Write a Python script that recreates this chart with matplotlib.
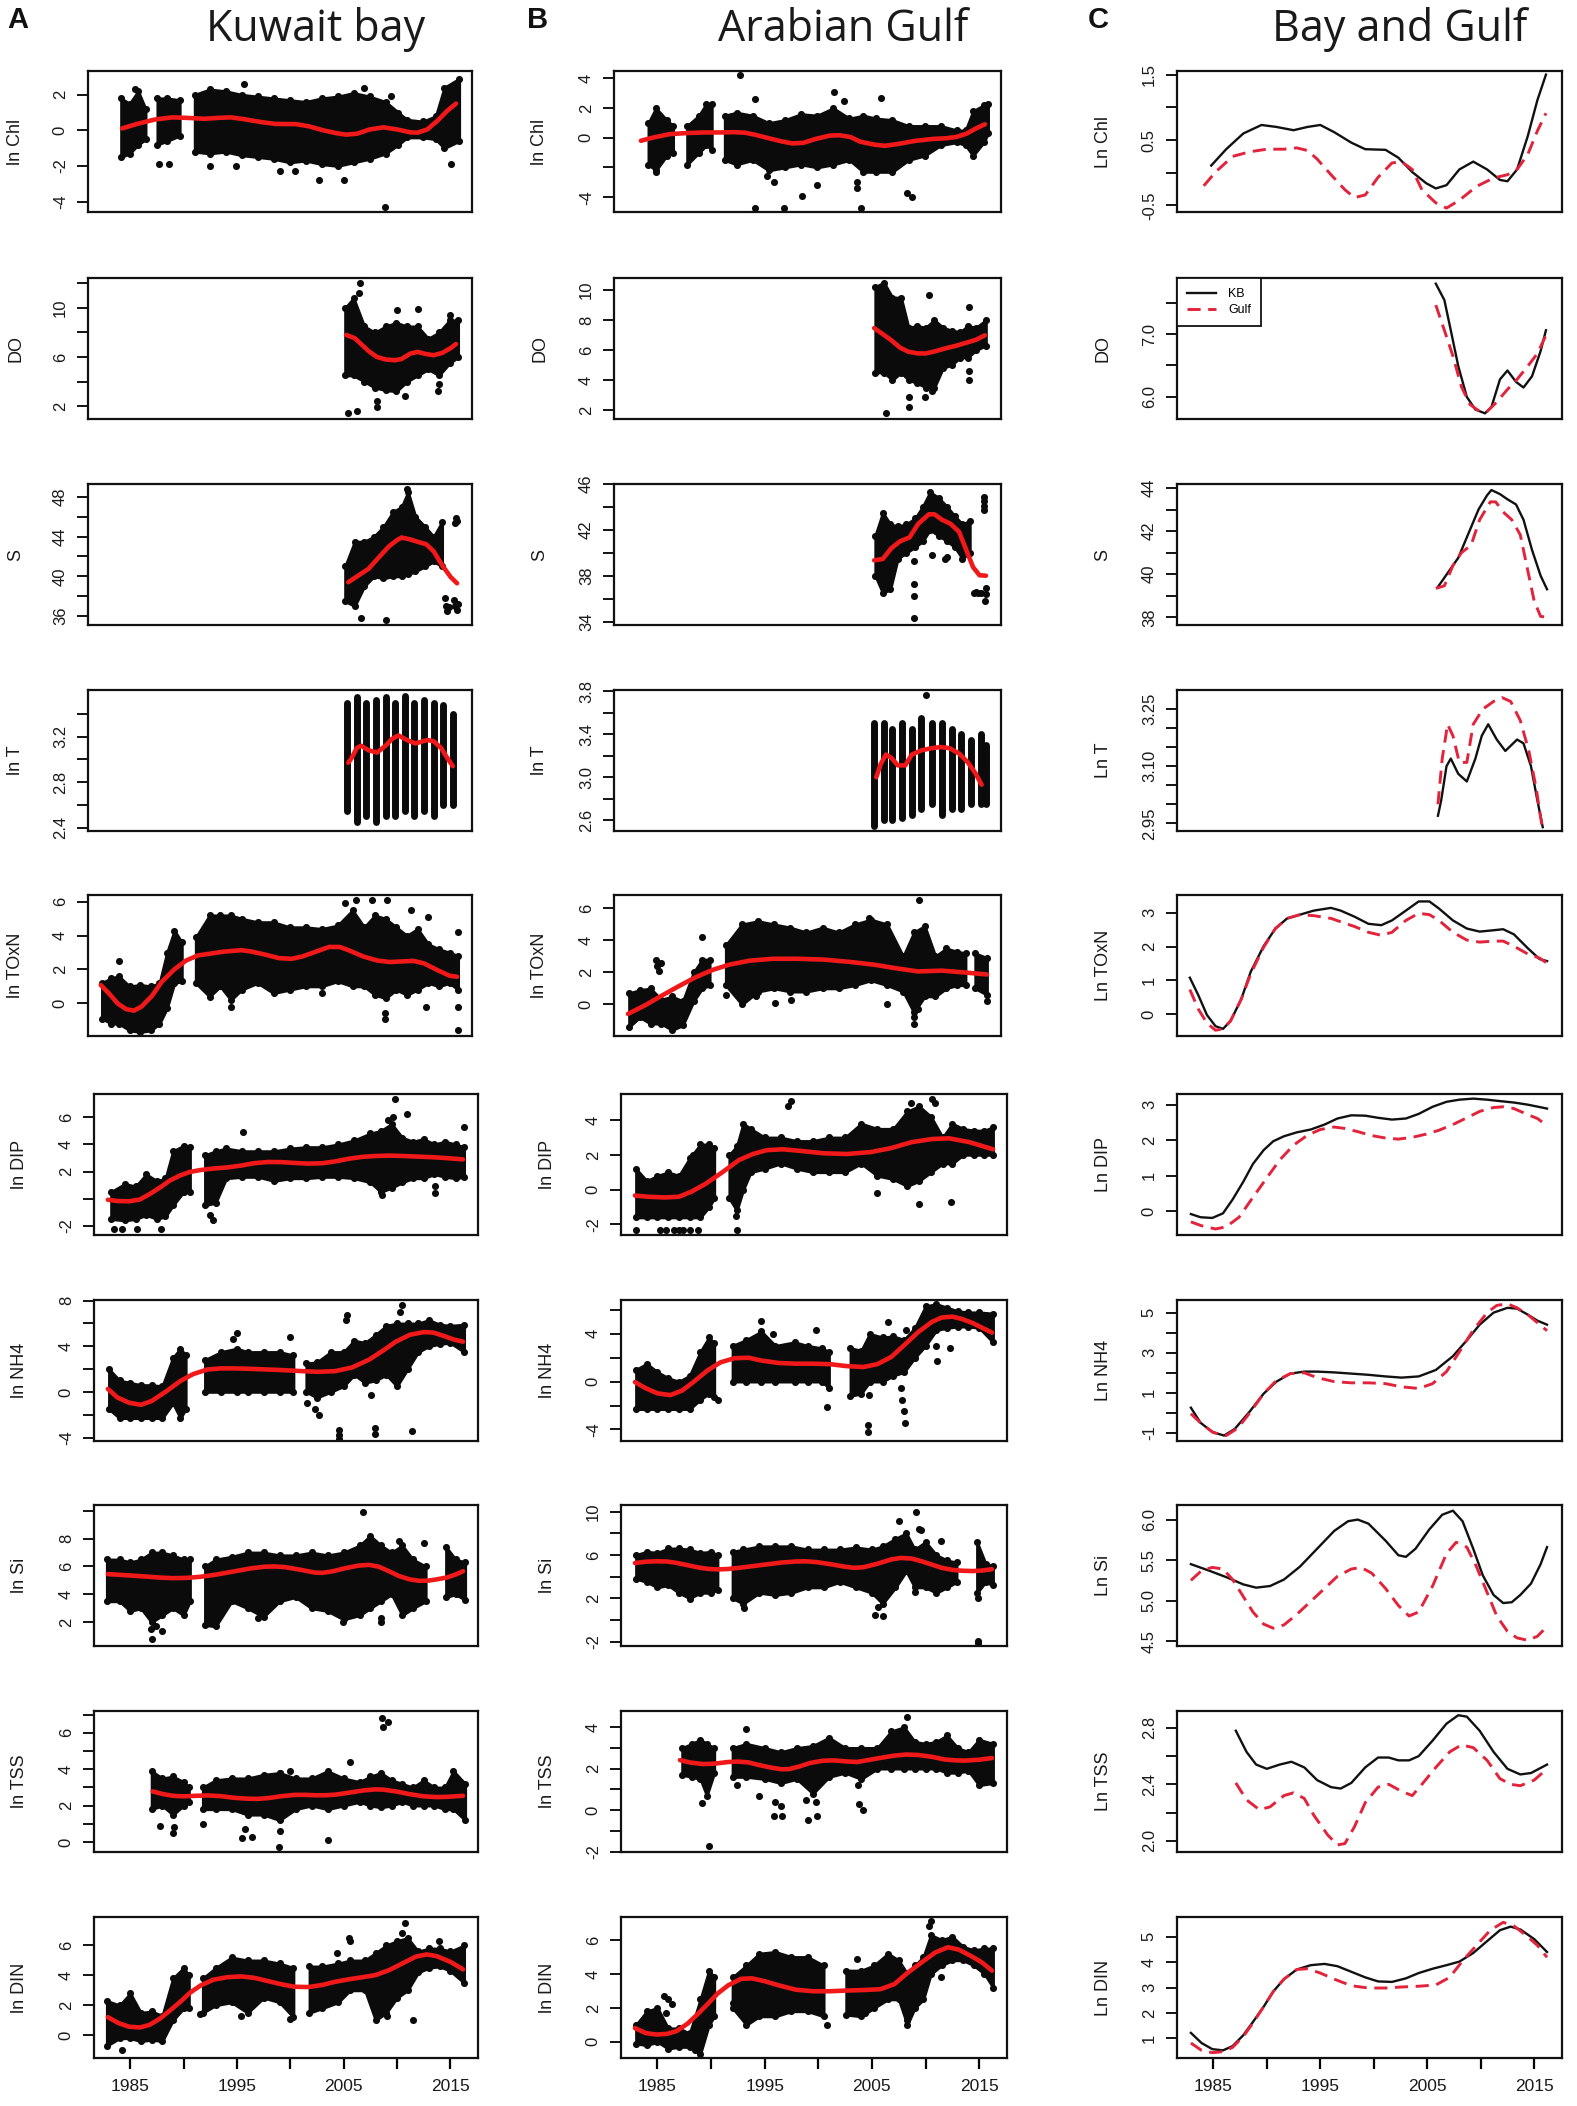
import matplotlib
matplotlib.use('Agg')
import matplotlib.pyplot as plt
import numpy as np

# ---------------- axis / text definitions ----------------
AB_NAMES = ['ln Chl', 'DO', 'S', 'ln T', 'ln TOxN', 'ln DIP', 'ln NH4', 'ln Si', 'ln TSS', 'ln DIN']
C_NAMES = ['Ln Chl', 'DO', 'S', 'Ln T', 'Ln TOxN', 'Ln DIP', 'Ln NH4', 'Ln Si', 'Ln TSS', 'Ln DIN']
TITLES = ['Kuwait bay', 'Arabian Gulf', 'Bay and Gulf']
LETTERS = ['A', 'B', 'C']
XT = [1985, 1990, 1995, 2000, 2005, 2010, 2015]
XTL = ['1985', '', '1995', '', '2005', '', '2015']

A_TICKS = [[-4, -2, 0, 2], [2, 4, 6, 8, 10, 12], [36, 38, 40, 42, 44, 46, 48], [2.4, 2.6, 2.8, 3.0, 3.2, 3.4],
           [0, 2, 4, 6], [-2, 0, 2, 4, 6], [-4, -2, 0, 2, 4, 6, 8], [2, 4, 6, 8, 10], [0, 1, 2, 3, 4, 5, 6, 7], [0, 2, 4, 6]]
A_LABELS = [['-4', '-2', '0', '2'], ['2', '', '6', '', '10', ''], ['36', '', '40', '', '44', '', '48'],
            ['2.4', '', '2.8', '', '3.2', ''], ['0', '2', '4', '6'], ['-2', '', '2', '4', '6'],
            ['-4', '', '0', '', '4', '', '8'], ['2', '4', '6', '8', ''], ['0', '', '2', '', '4', '', '6', ''],
            ['0', '2', '4', '6']]
A_YLIM = [(-4.58, 3.33), (0.95, 12.44), (35.1, 49.3), (2.37, 3.61), (-1.93, 6.4), (-2.67, 7.7),
          (-4.3, 8.05), (0.3, 10.4), (-0.55, 7.2), (-1.52, 7.9)]
B_TICKS = [[-4, -2, 0, 2, 4], [2, 4, 6, 8, 10], [34, 36, 38, 40, 42, 44, 46], [2.6, 2.8, 3.0, 3.2, 3.4, 3.6, 3.8],
           [0, 2, 4, 6], [-2, 0, 2, 4], [-4, -2, 0, 2, 4, 6], [-2, 0, 2, 4, 6, 8, 10], [-2, -1, 0, 1, 2, 3, 4], [0, 2, 4, 6]]
B_LABELS = [['-4', '', '0', '2', '4'], ['2', '4', '6', '8', '10'], ['34', '', '38', '', '42', '', '46'],
            ['2.6', '', '3.0', '', '3.4', '', '3.8'], ['0', '2', '4', '6'], ['-2', '0', '2', '4'],
            ['-4', '', '0', '', '4', ''], ['-2', '', '2', '', '6', '', '10'], ['-2', '', '0', '', '2', '', '4'],
            ['0', '2', '4', '6']]
B_YLIM = [(-5.0, 4.5), (1.4, 10.8), (33.7, 46.0), (2.5, 3.81), (-1.97, 6.83), (-2.61, 5.5),
          (-4.97, 6.83), (-2.4, 10.6), (-2.02, 4.78), (-0.95, 7.35)]
C_TICKS = [[-0.5, 0, 0.5, 1.0, 1.5], [6.0, 6.5, 7.0, 7.5], [38, 39, 40, 41, 42, 43, 44],
           [2.95, 3.0, 3.05, 3.1, 3.15, 3.2, 3.25], [0, 1, 2, 3], [0, 1, 2, 3], [-1, 0, 1, 2, 3, 4, 5],
           [4.5, 5.0, 5.5, 6.0], [2.0, 2.2, 2.4, 2.6, 2.8], [1, 2, 3, 4, 5]]
C_LABELS = [['-0.5', '', '0.5', '', '1.5'], ['6.0', '', '7.0', ''], ['38', '', '40', '', '42', '', '44'],
            ['2.95', '', '', '3.10', '', '', '3.25'], ['0', '1', '2', '3'], ['0', '1', '2', '3'],
            ['-1', '', '1', '', '3', '', '5'], ['4.5', '5.0', '5.5', '6.0'], ['2.0', '', '2.4', '', '2.8'],
            ['1', '2', '3', '4', '5']]
C_YLIM = [(-0.6, 1.555), (5.65, 7.89), (37.64, 44.19), (2.93, 3.30), (-0.64, 3.52), (-0.67, 3.3),
          (-1.4, 5.63), (4.44, 6.18), (1.92, 2.92), (0.22, 5.78)]

# ---------------- Kuwait Bay observations (envelopes + isolated points) ----------------
KB_CHL_X = [1984.7, 1985.5, 1986.3, 1987.0, None, 1988.1, 1989.0, 1990.2, None, 1991.6, 1993.0, 1994.5, 1996.0, 1997.5, 1999.0, 2000.5, 2002.0, 2003.5, 2005.0, 2006.5, 2008.0, 2009.5, 2010.7, 2011.5, 2013.0, 2014.2, 2015.0, 2016.4]
KB_CHL_LO = [-1.5, -1.3, -0.8, -0.5, None, -0.8, -0.6, -0.3, None, -1.2, -1.3, -1.2, -1.4, -1.5, -1.6, -1.8, -1.7, -1.9, -2.0, -1.8, -1.6, -1.3, -0.8, -0.4, -0.4, -0.5, -1.0, -0.6]
KB_CHL_HI = [1.8, 1.5, 2.2, 1.2, None, 1.8, 1.8, 1.7, None, 2.0, 2.3, 2.2, 2.0, 1.9, 1.8, 1.7, 1.6, 1.8, 1.9, 2.1, 1.9, 1.6, 1.0, 0.6, 0.5, 0.8, 2.4, 2.9]
KB_CHL_OX = [1988.3, 1989.2, 1993.0, 1995.5, 1996.2, 1999.6, 2001.0, 2003.3, 2005.6, 2007.5, 2009.4, 2015.6, 2010.0, 1986.0]
KB_CHL_OY = [-1.9, -1.9, -2.0, -2.0, 2.6, -2.3, -2.3, -2.8, -2.8, 2.4, -4.3, -1.9, 1.9, 2.3]

KB_DO_X = [2005.7, 2006.5, 2007.5, 2008.5, 2009.5, 2010.5, 2011.5, 2012.5, 2013.5, 2014.5, 2015.5, 2016.3]
KB_DO_LO = [4.5, 4.5, 4.0, 3.5, 3.3, 3.2, 4.0, 4.5, 5.0, 4.5, 5.5, 6.0]
KB_DO_HI = [10.0, 10.8, 8.5, 8.0, 8.5, 8.8, 8.5, 8.5, 7.5, 8.0, 9.0, 9.0]
KB_DO_OX = [2007.1, 2007.0, 2006.0, 2008.7, 2008.7, 2011.3, 2010.6, 2012.5, 2014.4, 2014.5, 2015.5, 2006.8]
KB_DO_OY = [12.0, 11.2, 1.4, 1.9, 2.4, 2.8, 9.8, 9.9, 3.2, 3.8, 9.4, 1.6]

KB_S_X = [2005.7, 2006.6, 2007.5, 2008.4, 2009.3, 2010.2, 2011.0, 2011.6, 2012.3, 2013.2, 2014.0, 2014.8]
KB_S_LO = [37.5, 37.0, 39.0, 40.0, 39.8, 40.0, 40.0, 40.2, 40.5, 41.0, 41.5, 41.0]
KB_S_HI = [41.0, 43.5, 43.5, 44.0, 45.0, 46.5, 47.0, 48.5, 46.0, 45.0, 44.0, 45.5]
KB_S_OX = [2009.5, 2007.2, 2015.1, 2015.2, 2015.3, 2015.4, 2016.0, 2016.1, 2016.2, 2016.0, 2016.2, 2016.3, 2011.5, 2015.9]
KB_S_OY = [35.6, 35.8, 37.8, 37.0, 36.5, 36.9, 45.4, 45.9, 45.6, 37.0, 36.6, 37.2, 48.8, 37.6]

KB_T_X = [2005.9, 2006.8, 2007.7, 2008.6, 2009.5, 2010.4, 2011.3, 2012.2, 2013.1, 2014.0, 2014.9, 2015.8]
KB_T_LO = [2.55, 2.45, 2.5, 2.45, 2.5, 2.5, 2.55, 2.5, 2.55, 2.5, 2.6, 2.6]
KB_T_HI = [3.5, 3.55, 3.5, 3.52, 3.55, 3.5, 3.56, 3.5, 3.52, 3.5, 3.48, 3.4]
KB_T_OX = []
KB_T_OY = []

KB_TOXN_X = [1982.9, 1983.8, 1984.5, 1985.5, 1986.5, 1987.5, 1988.3, 1989.0, 1989.7, 1990.4, None, 1991.7, 1993.0, 1994.0, 1995.0, 1996.0, 1997.5, 1999.0, 2000.5, 2002.0, 2003.5, 2005.0, 2006.4, 2007.5, 2008.5, 2009.5, 2010.5, 2011.5, 2012.5, 2013.5, 2014.5, 2015.5, 2016.3]
KB_TOXN_LO = [-0.9, -1.2, -1.2, -1.6, -1.7, -1.6, -1.2, -0.3, 1.2, 1.3, None, 1.2, 0.4, 1.0, 0.2, 0.8, 1.2, 0.6, 0.8, 1.0, 1.0, 1.3, 1.0, 1.0, 0.5, 0.3, 0.8, 0.5, 0.8, 1.2, 1.0, 1.2, 0.8]
KB_TOXN_HI = [1.2, 1.5, 1.6, 1.0, 1.1, 1.0, 1.2, 3.0, 4.3, 3.6, None, 3.9, 5.2, 5.2, 5.2, 5.0, 4.8, 4.8, 4.5, 4.5, 4.4, 4.6, 5.5, 4.5, 5.2, 5.0, 4.5, 4.0, 4.4, 3.5, 3.2, 3.0, 2.8]
KB_TOXN_OX = [1984.5, 2006.7, 2008.2, 2009.6, 2009.4, 2009.4, 2011.9, 2013.5, 2013.3, 2016.3, 2016.3, 2016.3, 2003.5, 1995.0, 2005.7]
KB_TOXN_OY = [2.5, 6.1, 6.1, 6.1, -0.6, -0.9, 5.5, 5.1, -0.2, 4.2, -0.2, -1.6, 0.6, -0.2, 5.9]

KB_DIP_X = [1983.2, 1984.5, 1985.5, 1986.5, 1987.5, 1988.3, 1989.0, 1990.0, 1990.6, None, 1992.0, 1993.0, 1994.0, 1995.5, 1997.0, 1998.5, 2000.0, 2001.5, 2003.0, 2004.5, 2006.0, 2007.5, 2008.5, 2009.5, 2010.5, 2011.5, 2012.5, 2013.5, 2014.5, 2015.5, 2016.3]
KB_DIP_LO = [-1.5, -1.6, -1.5, -1.2, -1.5, -1.3, -0.5, 0.5, 0.5, None, -0.5, -0.3, 1.5, 1.6, 1.6, 1.3, 1.5, 1.5, 1.6, 1.6, 1.5, 1.2, 0.5, 0.8, 1.2, 1.5, 1.5, 1.8, 1.6, 1.5, 1.6]
KB_DIP_HI = [0.5, 1.1, 0.9, 1.8, 1.3, 1.5, 3.5, 3.9, 3.8, None, 3.2, 3.5, 3.7, 3.5, 3.5, 3.5, 3.7, 3.8, 3.8, 4.0, 4.3, 4.8, 5.0, 5.5, 4.5, 4.2, 4.4, 4.0, 4.2, 4.0, 3.8]
KB_DIP_OX = [1983.5, 1984.2, 1985.6, 1987.9, 1992.8, 1995.6, 2009.2, 2009.6, 2009.8, 2010.9, 2008.6, 2013.6, 2013.6, 2016.3, 1992.5]
KB_DIP_OY = [-2.2, -2.2, -2.2, -2.2, -1.6, 4.9, 5.8, 6.0, 7.3, 6.2, 0.3, 0.4, 0.9, 5.3, -1.2]

KB_NH4_X = [1983.0, 1984.0, 1985.0, 1986.0, 1987.0, 1988.0, 1989.0, 1989.7, 1990.2, None, 1992.0, 1993.5, 1995.0, 1996.0, 1997.5, 1999.0, 2000.3, None, 2001.5, 2002.5, 2003.8, 2005.0, 2006.0, 2007.0, 2008.0, 2009.0, 2010.0, 2011.0, 2012.0, 2013.0, 2014.0, 2015.0, 2016.3]
KB_NH4_LO = [-1.5, -2.3, -2.3, -2.3, -2.3, -2.3, -1.0, -2.3, -1.5, None, 0.0, 0.0, 0.0, 0.0, 0.0, 0.0, 0.0, None, 0.0, -0.5, 0.0, 0.5, 1.5, 0.8, 1.0, 1.5, 0.5, 2.0, 3.5, 4.0, 4.2, 4.3, 3.5]
KB_NH4_HI = [2.0, 1.0, 0.8, 0.6, 0.6, 0.5, 3.0, 3.8, 3.2, None, 2.8, 3.5, 3.8, 3.5, 3.5, 3.5, 3.2, None, 2.5, 2.6, 3.5, 3.5, 4.5, 4.3, 5.0, 5.8, 6.0, 6.0, 6.0, 6.3, 5.9, 5.8, 5.9]
KB_NH4_OX = [2004.6, 2004.6, 2004.6, 2007.9, 2007.9, 2011.4, 2005.2, 2005.3, 2010.5, 2010.3, 1995.0, 2000.0, 2007.6, 2001.6, 2002.3, 2002.7, 1994.6]
KB_NH4_OY = [-3.8, -4.1, -3.3, -3.2, -3.7, -3.4, 6.3, 6.7, 7.6, 7.0, 5.2, 4.8, -0.3, -1.0, -1.5, -2.0, 4.6]

KB_SI_X = [1982.8, 1984.0, 1985.0, 1986.0, 1987.0, 1988.0, 1989.0, 1990.0, 1990.6, None, 1992.0, 1993.0, 1994.5, 1996.0, 1997.5, 1999.0, 2000.5, 2002.0, 2003.5, 2005.0, 2006.5, 2007.5, 2008.5, 2009.5, 2010.5, 2011.5, 2012.7, None, 2014.6, 2015.5, 2016.4]
KB_SI_LO = [3.5, 3.5, 2.8, 3.0, 2.0, 2.5, 3.0, 2.5, 3.5, None, 1.8, 1.7, 3.5, 3.0, 2.4, 3.5, 3.8, 3.0, 2.8, 2.2, 2.5, 3.0, 3.5, 4.0, 2.5, 3.0, 3.5, None, 3.8, 4.0, 3.6]
KB_SI_HI = [6.5, 6.5, 6.3, 6.5, 7.0, 7.0, 6.8, 6.5, 6.5, None, 6.0, 6.5, 6.7, 7.0, 7.0, 6.8, 6.8, 7.0, 6.8, 7.0, 7.5, 8.2, 7.5, 7.0, 7.5, 6.5, 6.0, None, 7.4, 6.5, 6.3]
KB_SI_OX = [1986.9, 1987.4, 1987.0, 1988.0, 2006.8, 2008.5, 2008.5, 2010.2, 2012.5, 2004.9, 1997.0]
KB_SI_OY = [1.5, 1.7, 0.8, 1.4, 9.9, 2.3, 2.0, 7.8, 7.7, 2.0, 2.3]

KB_TSS_X = [1987.0, 1988.0, 1989.0, 1990.0, 1990.5, None, 1991.8, 1993.0, 1994.5, 1996.0, 1997.5, 1999.0, 2000.5, 2002.0, 2003.5, 2005.0, 2006.5, 2007.5, 2008.5, 2009.5, 2010.5, 2011.5, 2012.5, 2013.5, 2014.5, 2015.3, 2016.4]
KB_TSS_LO = [1.8, 2.0, 1.5, 2.0, 2.2, None, 1.8, 1.8, 1.8, 1.5, 1.5, 1.2, 1.8, 2.0, 1.8, 2.0, 2.2, 2.0, 1.9, 2.0, 2.2, 2.0, 2.0, 2.0, 1.8, 1.8, 1.2]
KB_TSS_HI = [3.9, 3.5, 3.6, 3.3, 3.0, None, 3.0, 3.4, 3.5, 3.5, 3.7, 3.8, 3.5, 3.5, 3.9, 3.5, 3.3, 3.6, 3.8, 3.4, 3.2, 3.0, 3.4, 3.0, 3.0, 3.9, 3.2]
KB_TSS_OX = [1987.8, 1989.0, 1989.1, 1991.8, 1995.5, 1995.8, 1996.4, 1999.0, 1998.9, 2003.5, 2005.6, 2008.6, 2008.7, 2009.2, 1999.0, 2000.0]
KB_TSS_OY = [0.9, 0.5, 0.8, 1.0, 0.2, 0.7, 0.3, 0.6, -0.3, 0.1, 4.4, 6.8, 6.3, 6.6, 3.8, 3.9]

KB_DIN_X = [1982.8, 1984.0, 1985.0, 1986.0, 1987.0, 1988.0, 1989.0, 1990.0, 1990.5, None, 1991.8, 1993.0, 1994.5, 1996.0, 1997.5, 1999.0, 2000.3, None, 2001.8, 2003.0, 2004.5, 2005.6, 2007.0, 2008.0, 2009.0, 2010.0, 2011.0, 2012.0, 2013.0, 2014.0, 2015.0, 2016.3]
KB_DIN_LO = [-0.7, -0.2, -0.2, -0.4, -0.3, -0.4, 1.0, 1.8, 1.8, None, 1.5, 2.0, 2.2, 1.5, 2.5, 2.2, 1.2, None, 1.5, 1.8, 2.2, 3.0, 3.0, 1.0, 1.5, 2.5, 3.0, 4.2, 4.5, 4.6, 4.3, 3.5]
KB_DIN_HI = [2.3, 2.0, 2.8, 1.5, 1.6, 1.3, 3.8, 4.5, 4.0, None, 3.8, 4.5, 5.2, 5.0, 5.0, 4.8, 4.5, None, 4.6, 4.6, 4.8, 5.0, 5.0, 5.5, 6.0, 6.3, 6.5, 5.6, 5.8, 5.8, 5.6, 6.0]
KB_DIN_OX = [1984.2, 1991.5, 1995.4, 2000.0, 2005.5, 2005.6, 2004.4, 2010.8, 2010.5, 2011.5, 2013.9, 2009.1]
KB_DIN_OY = [-1.0, 1.4, 1.3, 1.1, 6.5, 6.3, 5.5, 7.5, 6.8, 1.0, 6.3, 1.3]

# ---------------- Arabian Gulf observations ----------------
GU_CHL_X = [1984.8, 1985.5, 1986.5, 1987.1, None, 1988.4, 1989.5, 1990.2, 1990.7, None, 1991.9, 1993.0, 1994.5, 1996.0, 1997.5, 1999.0, 2000.5, 2002.0, 2003.5, 2004.8, 2006.0, 2007.5, 2009.0, 2010.5, 2012.0, 2013.5, 2014.3, 2015.0, 2016.0, 2016.4]
GU_CHL_LO = [-1.8, -2.2, -1.2, -1.0, None, -1.8, -1.0, -0.5, -0.8, None, -1.5, -1.8, -1.5, -2.2, -2.0, -1.8, -2.0, -1.8, -1.5, -2.3, -2.3, -2.3, -1.5, -1.2, -0.5, -0.3, -0.5, -1.2, -0.3, 0.3]
GU_CHL_HI = [1.0, 2.0, 1.2, 0.8, None, 0.8, 1.5, 2.3, 2.3, None, 1.5, 1.7, 1.5, 1.0, 1.2, 1.6, 1.5, 2.0, 1.3, 1.5, 1.3, 1.2, 0.8, 0.8, 0.8, 0.5, 0.5, 1.8, 2.2, 2.3]
GU_CHL_OX = [1993.3, 1994.7, 1997.4, 2004.6, 1999.1, 2000.5, 2004.2, 2004.2, 2008.9, 2009.3, 2002.1, 2006.4, 1994.7, 2003.0, 1995.8, 1996.5, 1985.5]
GU_CHL_OY = [4.2, -4.7, -4.7, -4.7, -3.9, -3.2, -3.4, -3.0, -3.7, -4.0, 3.1, 2.7, 2.6, 2.5, -2.6, -3.0, -2.3]

GU_DO_X = [2005.9, 2006.7, 2007.5, 2008.3, 2009.0, 2009.8, 2010.6, 2011.4, 2012.2, 2013.0, 2013.8, 2014.5, 2015.3, 2016.2]
GU_DO_LO = [4.5, 4.5, 4.0, 4.5, 4.0, 3.8, 3.5, 3.5, 4.8, 5.0, 5.5, 5.5, 6.0, 6.3]
GU_DO_HI = [10.2, 10.5, 9.5, 9.5, 7.5, 7.6, 7.5, 8.0, 7.5, 7.3, 7.2, 7.6, 7.5, 8.0]
GU_DO_OX = [2006.9, 2009.0, 2009.0, 2010.5, 2011.2, 2010.9, 2014.6, 2014.6, 2014.6]
GU_DO_OY = [1.8, 2.9, 2.2, 2.9, 3.3, 9.7, 8.9, 4.0, 4.6]

GU_S_X = [2005.9, 2006.6, 2007.3, 2008.0, 2008.8, 2009.6, 2010.3, 2011.0, 2011.8, 2012.6, 2013.3, 2014.0, 2014.7]
GU_S_LO = [38.0, 36.5, 36.8, 39.5, 40.0, 40.5, 41.0, 42.0, 41.5, 41.0, 40.5, 39.5, 40.0]
GU_S_HI = [41.5, 43.5, 42.5, 42.3, 42.5, 43.0, 44.0, 45.3, 44.8, 44.0, 43.2, 42.5, 42.8]
GU_S_OX = [2009.5, 2009.5, 2009.5, 2009.5, 2011.2, 2012.4, 2012.6, 2015.1, 2015.3, 2015.5, 2015.7, 2016.0, 2016.0, 2016.0, 2016.0, 2016.2, 2016.2, 2016.1]
GU_S_OY = [39.3, 37.3, 36.2, 34.3, 39.8, 39.5, 39.6, 36.5, 36.6, 36.5, 36.5, 44.9, 44.5, 44.1, 43.7, 36.9, 36.4, 35.8]

GU_T_X = [2005.8, 2006.7, 2007.5, 2008.4, 2009.3, 2010.2, 2011.2, 2012.1, 2013.0, 2013.9, 2014.8, 2015.7, 2016.2]
GU_T_LO = [2.55, 2.6, 2.6, 2.62, 2.65, 2.7, 2.75, 2.65, 2.7, 2.7, 2.75, 2.75, 2.75]
GU_T_HI = [3.5, 3.5, 3.45, 3.5, 3.45, 3.55, 3.5, 3.5, 3.45, 3.4, 3.35, 3.4, 3.3]
GU_T_OX = [2010.6]
GU_T_OY = [3.76]

GU_TOXN_X = [1983.0, 1984.0, 1985.0, 1986.0, 1987.0, 1988.0, 1989.0, 1989.8, 1990.5, None, 1992.0, 1993.5, 1995.0, 1996.5, 1998.0, 1999.5, 2001.0, 2002.5, 2004.0, 2005.5, 2007.0, 2008.5, 2009.5, 2010.5, 2011.5, 2012.5, 2013.5, 2014.3, None, 2015.2, 2016.3]
GU_TOXN_LO = [-1.4, -0.8, -1.2, -1.2, -1.6, -1.3, 0.2, 1.0, 1.2, None, 1.2, 0.0, 0.8, 1.0, 0.8, 0.8, 1.0, 1.0, 1.2, 1.5, 1.2, 0.8, -0.5, 0.5, 0.5, 1.0, 1.2, 1.2, None, 1.0, 0.6]
GU_TOXN_HI = [0.7, 0.9, 1.0, 0.3, 0.5, 0.2, 2.0, 2.8, 2.8, None, 3.7, 5.0, 5.2, 5.0, 4.8, 4.5, 4.8, 4.5, 5.0, 5.3, 5.0, 3.0, 4.5, 4.9, 3.0, 3.5, 3.3, 3.2, None, 3.2, 2.9]
GU_TOXN_OX = [1985.5, 1985.6, 1985.8, 1986.0, 1989.8, 1992.0, 1994.8, 1996.6, 1998.1, 2005.3, 2007.0, 2009.5, 2009.5, 2010.0, 2016.3, 2009.9]
GU_TOXN_OY = [2.8, 2.4, 2.1, 2.6, 4.2, 0.6, 0.5, 0.1, 0.3, 5.4, 0.0, -1.2, -0.8, 6.5, 0.2, -0.3]

GU_DIP_X = [1983.0, 1984.0, 1985.0, 1986.0, 1987.0, 1988.0, 1989.0, 1989.8, 1990.3, None, 1991.7, 1992.4, 1993.0, 1993.7, 1995.0, 1996.5, 1998.0, 1999.5, 2001.0, 2002.5, 2004.0, 2005.5, 2007.0, 2008.3, 2009.4, 2010.5, 2011.6, 2012.5, 2013.5, 2014.5, 2015.5, 2016.3]
GU_DIP_LO = [-1.6, -1.6, -1.6, -1.6, -1.6, -1.6, -1.6, -1.0, -0.5, None, -0.5, -1.2, 0.0, 1.0, 1.2, 1.5, 1.2, 1.0, 1.0, 1.0, 1.5, 0.8, 0.6, 0.2, 0.5, 1.0, 1.5, 1.5, 2.0, 2.0, 2.0, 2.0]
GU_DIP_HI = [1.2, 0.5, 0.8, 1.0, 0.8, 1.8, 2.6, 2.6, 2.4, None, 2.0, 2.5, 3.8, 3.5, 3.0, 3.0, 2.8, 2.8, 3.0, 3.0, 3.8, 3.5, 3.5, 4.5, 4.8, 4.2, 3.0, 3.8, 3.5, 3.4, 3.4, 3.6]
GU_DIP_OX = [1983.0, 1985.2, 1985.8, 1986.5, 1987.0, 1987.4, 1988.0, 1988.8, 1992.4, 1992.3, 1997.2, 1997.5, 2005.5, 2009.4, 2010.6, 2010.9, 2012.4, 2008.6, 1988.3]
GU_DIP_OY = [-2.3, -2.3, -2.3, -2.3, -2.3, -2.3, -2.3, -2.3, -2.3, -1.5, 4.8, 5.1, -0.2, -0.8, 5.2, 5.0, -0.7, 5.0, 2.0]

GU_NH4_X = [1983.0, 1984.0, 1985.0, 1986.0, 1987.0, 1988.0, 1989.0, 1989.8, 1990.3, None, 1992.0, 1993.3, 1994.7, 1996.0, 1997.8, 1999.0, 2000.3, 2001.0, None, 2003.0, 2004.0, 2004.8, 2006.0, 2007.0, 2008.0, 2009.0, 2010.0, 2011.0, 2012.0, 2013.0, 2014.0, 2015.0, 2016.3]
GU_NH4_LO = [-2.3, -2.3, -2.3, -2.3, -2.3, -2.3, -1.5, -1.0, -1.3, None, 0.0, 0.0, 0.0, 0.0, 0.0, 0.0, 0.0, -0.5, None, -1.2, -1.0, 0.0, 0.0, 0.5, 0.8, 2.0, 3.0, 4.3, 4.5, 4.6, 4.6, 4.5, 3.3]
GU_NH4_HI = [1.0, 1.5, 0.8, 0.3, 0.0, 0.5, 2.5, 3.7, 3.2, None, 3.0, 3.5, 4.2, 3.0, 3.3, 3.0, 2.8, 2.5, None, 2.8, 2.6, 4.0, 3.7, 3.8, 3.5, 4.5, 6.3, 6.5, 6.2, 5.9, 5.8, 5.8, 5.7]
GU_NH4_OX = [1994.7, 1995.8, 1999.8, 2000.8, 2004.7, 2004.6, 2004.6, 2006.5, 2007.7, 2007.8, 2008.0, 2008.1, 2011.0, 2011.1, 2012.3, 2008.2, 1990.6]
GU_NH4_OY = [5.1, 4.0, 4.3, -2.1, -1.1, -3.6, -4.2, 5.0, -0.5, -1.5, -2.5, -3.5, 3.0, 1.7, 2.8, 4.3, -1.5]

GU_SI_X = [1983.0, 1984.0, 1985.0, 1986.0, 1987.0, 1988.0, 1989.0, 1990.0, 1990.6, None, 1992.0, 1993.0, 1994.5, 1996.0, 1997.5, 1999.0, 2000.5, 2002.0, 2003.5, 2005.0, 2006.0, 2007.2, 2008.2, 2009.0, 2010.0, 2011.0, 2012.0, 2012.9, None, 2014.8, 2015.6, 2016.3]
GU_SI_LO = [3.8, 3.5, 3.0, 3.2, 2.5, 2.0, 2.5, 2.5, 2.8, None, 2.0, 1.5, 2.5, 2.3, 2.5, 3.0, 3.0, 3.5, 3.0, 2.5, 1.5, 3.0, 4.5, 3.0, 3.0, 2.5, 3.0, 3.5, None, 2.5, 3.5, 3.2]
GU_SI_HI = [6.0, 6.3, 6.2, 6.6, 6.6, 6.5, 6.2, 6.3, 6.0, None, 6.3, 6.5, 6.8, 6.8, 6.8, 6.5, 6.5, 6.5, 6.7, 6.5, 6.8, 7.5, 8.0, 6.5, 7.2, 6.0, 5.5, 5.3, None, 7.2, 5.2, 5.0]
GU_SI_OX = [1993.1, 1988.0, 2005.3, 2006.0, 2005.6, 2007.5, 2009.1, 2009.6, 2009.4, 2011.4, 2014.9, 2014.9, 2014.9, 2009.0]
GU_SI_OY = [1.1, 1.9, 0.5, 0.4, 1.2, 9.1, 10.0, 8.3, 8.4, 7.3, 2.0, -1.9, -2.1, 2.6]

GU_TSS_X = [1987.3, 1988.2, 1989.0, 1989.6, 1990.3, None, 1992.0, 1993.3, 1995.0, 1996.5, 1998.0, 1999.5, 2001.0, 2002.5, 2004.0, 2005.5, 2006.8, 2008.0, 2009.0, 2010.0, 2011.0, 2012.0, 2013.0, 2014.0, 2015.0, 2016.3]
GU_TSS_LO = [1.7, 1.6, 1.5, 0.7, 1.8, None, 1.6, 1.6, 1.5, 1.3, 1.5, 0.8, 1.6, 1.8, 1.5, 2.0, 2.0, 2.0, 2.0, 2.0, 2.0, 1.8, 1.8, 1.9, 1.2, 1.3]
GU_TSS_HI = [3.0, 3.2, 3.4, 3.2, 3.0, None, 3.0, 3.2, 3.0, 2.8, 3.0, 3.1, 3.5, 3.0, 3.0, 3.0, 3.8, 4.0, 3.3, 3.2, 3.3, 3.6, 3.0, 2.8, 3.4, 3.2]
GU_TSS_OX = [1989.2, 1989.8, 1992.4, 1993.3, 1994.5, 1995.9, 1996.0, 1996.6, 1996.5, 1998.9, 1999.0, 1999.8, 1999.9, 2003.7, 2003.8, 2004.2, 2008.3]
GU_TSS_OY = [0.35, -1.75, 1.2, 3.9, 0.7, -0.3, 0.4, -0.3, 0.2, 0.5, -0.5, 0.4, -0.3, 1.2, 0.3, 0.0, 4.5]

GU_DIN_X = [1983.0, 1984.0, 1985.0, 1986.0, 1987.0, 1988.0, 1989.0, 1989.8, 1990.3, None, 1992.0, 1993.3, 1994.5, 1996.0, 1997.5, 1999.0, 2000.5, None, 2002.6, 2004.0, 2005.2, 2006.5, 2007.5, 2008.3, 2009.0, 2009.8, 2010.5, 2011.5, 2012.5, 2013.5, 2014.5, 2015.5, 2016.3]
GU_DIN_LO = [-0.1, -0.2, 0.0, -0.4, -0.3, -0.3, -0.7, 1.0, 1.5, None, 2.0, 1.0, 1.5, 1.5, 1.8, 1.8, 1.5, None, 1.6, 1.5, 2.0, 2.5, 2.5, 1.0, 2.0, 2.5, 4.0, 4.5, 4.8, 4.8, 4.5, 4.0, 3.2]
GU_DIN_HI = [1.0, 1.8, 2.0, 0.8, 0.8, 0.5, 2.5, 4.2, 3.8, None, 3.8, 4.5, 5.2, 5.3, 5.0, 5.0, 4.5, None, 4.2, 4.2, 4.5, 5.2, 4.8, 4.0, 4.5, 5.0, 6.3, 6.0, 6.2, 5.6, 5.4, 5.5, 5.5]
GU_DIN_OX = [1985.6, 1986.0, 1985.8, 1986.4, 1988.5, 1992.0, 2000.8, 2003.6, 2004.4, 2008.3, 2010.5, 2010.3, 2011.4]
GU_DIN_OY = [2.7, 2.5, 1.7, 2.2, -0.5, 2.3, 1.0, 4.9, 1.7, 1.3, 7.1, 6.8, 3.8]

# ---------------- smoothed trends (Bay = KB, Gulf = GU) ----------------
KB_CHL_TX = [1984.8, 1986.2, 1987.8, 1989.5, 1990.9, 1992.5, 1993.8, 1995.0, 1996.3, 1997.9, 1999.2, 2001.1, 2002.3, 2003.6, 2004.9, 2005.8, 2006.8, 2008.0, 2009.3, 2010.6, 2011.8, 2012.5, 2013.4, 2014.4, 2015.3, 2016.1]
KB_CHL_TY = [0.11, 0.36, 0.60, 0.73, 0.70, 0.65, 0.70, 0.73, 0.62, 0.46, 0.36, 0.35, 0.23, 0.01, -0.16, -0.24, -0.19, 0.05, 0.17, 0.05, -0.11, -0.13, 0.05, 0.56, 1.11, 1.50]
GU_CHL_TX = [1984.1, 1985.2, 1986.8, 1988.4, 1990.0, 1991.6, 1992.8, 1993.8, 1994.7, 1996.0, 1997.3, 1998.2, 1999.2, 2000.4, 2001.7, 2002.6, 2003.6, 2004.5, 2005.8, 2006.8, 2008.0, 2009.6, 2011.2, 2012.5, 2013.4, 2014.4, 2015.3, 2016.1]
GU_CHL_TY = [-0.20, 0.01, 0.25, 0.32, 0.36, 0.36, 0.38, 0.34, 0.21, -0.03, -0.26, -0.38, -0.34, -0.07, 0.15, 0.17, 0.05, -0.26, -0.46, -0.54, -0.42, -0.21, -0.08, -0.03, 0.05, 0.28, 0.64, 0.91]

KB_DO_TX = [2005.8, 2006.6, 2007.2, 2007.9, 2008.7, 2009.5, 2010.4, 2011.0, 2011.8, 2012.5, 2013.3, 2014.0, 2014.8, 2015.6, 2016.1]
KB_DO_TY = [7.80, 7.54, 7.06, 6.49, 6.00, 5.80, 5.74, 5.84, 6.28, 6.42, 6.24, 6.15, 6.33, 6.73, 7.06]
GU_DO_TX = [2005.8, 2006.6, 2007.4, 2008.2, 2009.0, 2009.9, 2010.6, 2011.5, 2012.5, 2013.4, 2014.4, 2015.3, 2016.1]
GU_DO_TY = [7.46, 7.06, 6.65, 6.16, 5.88, 5.77, 5.77, 5.92, 6.12, 6.28, 6.49, 6.69, 6.98]

KB_S_TX = [2006.0, 2006.9, 2007.9, 2008.8, 2009.8, 2010.6, 2011.0, 2011.8, 2012.5, 2013.3, 2014.0, 2014.8, 2015.6, 2016.2]
KB_S_TY = [39.41, 40.05, 40.76, 41.83, 43.01, 43.67, 43.91, 43.72, 43.48, 43.24, 42.53, 41.12, 39.93, 39.30]
GU_S_TX = [2005.8, 2006.6, 2007.4, 2008.2, 2009.1, 2009.9, 2010.9, 2011.4, 2012.1, 2012.9, 2013.7, 2014.4, 2015.0, 2015.6, 2016.2]
GU_S_TY = [39.34, 39.46, 40.40, 41.00, 41.35, 42.53, 43.36, 43.36, 42.89, 42.53, 41.83, 40.17, 38.75, 38.04, 38.00]

KB_T_TX = [2006.0, 2006.3, 2006.8, 2007.2, 2007.9, 2008.7, 2009.5, 2010.1, 2010.7, 2011.5, 2012.3, 2013.4, 2014.0, 2014.7, 2015.3, 2015.8]
KB_T_TY = [2.97, 3.01, 3.10, 3.12, 3.08, 3.06, 3.12, 3.18, 3.21, 3.17, 3.14, 3.17, 3.16, 3.10, 3.01, 2.94]
GU_T_TX = [2006.0, 2006.4, 2006.9, 2007.4, 2008.0, 2008.7, 2009.3, 2010.2, 2011.2, 2012.0, 2012.8, 2013.7, 2014.5, 2015.2, 2015.8]
GU_T_TY = [3.00, 3.12, 3.21, 3.18, 3.11, 3.11, 3.21, 3.25, 3.27, 3.28, 3.27, 3.22, 3.14, 3.04, 2.93]

KB_TOXN_TX = [1982.8, 1983.6, 1984.4, 1985.2, 1985.9, 1986.6, 1987.6, 1988.5, 1989.7, 1990.8, 1991.9, 1993.1, 1994.4, 1996.0, 1996.9, 1998.2, 1999.5, 2000.7, 2001.7, 2003.0, 2004.2, 2005.2, 2006.1, 2007.4, 2008.7, 2009.9, 2011.2, 2012.1, 2013.1, 2014.4, 2015.5, 2016.2]
KB_TOXN_TY = [1.08, 0.56, -0.02, -0.35, -0.43, -0.20, 0.44, 1.26, 2.01, 2.53, 2.83, 2.94, 3.06, 3.14, 3.06, 2.88, 2.67, 2.63, 2.77, 3.06, 3.33, 3.33, 3.12, 2.77, 2.53, 2.44, 2.48, 2.51, 2.36, 1.95, 1.63, 1.57]
GU_TOXN_TX = [1982.8, 1983.6, 1984.4, 1985.2, 1985.9, 1986.6, 1987.6, 1988.5, 1989.7, 1990.8, 1991.9, 1993.1, 1994.4, 1996.0, 1996.9, 1998.2, 1999.5, 2000.7, 2001.7, 2003.0, 2004.2, 2005.2, 2006.1, 2007.4, 2008.7, 2009.9, 2011.2, 2012.1, 2013.1, 2014.4, 2015.5, 2016.2]
GU_TOXN_TY = [0.73, 0.15, -0.26, -0.47, -0.43, -0.20, 0.44, 1.20, 1.98, 2.53, 2.83, 2.94, 2.91, 2.83, 2.73, 2.59, 2.42, 2.33, 2.42, 2.77, 2.98, 2.94, 2.77, 2.42, 2.19, 2.13, 2.16, 2.16, 2.01, 1.78, 1.66, 1.51]
GU_TOXN_RX = [1982.9, 1984.5, 1986.1, 1987.6, 1989.2, 1990.8, 1992.3, 1994.2, 1996.4, 1998.6, 2001.1, 2003.6, 2005.8, 2008.0, 2009.9, 2012.1, 2014.3, 2016.3]
GU_TOXN_RY = [-0.59, -0.05, 0.57, 1.13, 1.70, 2.16, 2.48, 2.73, 2.85, 2.85, 2.80, 2.65, 2.48, 2.24, 2.06, 2.11, 1.99, 1.87]

KB_DIP_TX = [1982.9, 1983.8, 1984.9, 1985.9, 1986.8, 1987.8, 1988.7, 1989.7, 1990.6, 1991.6, 1992.8, 1994.1, 1995.4, 1996.6, 1997.9, 1999.2, 2000.4, 2001.7, 2003.0, 2004.2, 2005.5, 2006.8, 2008.0, 2009.3, 2010.6, 2011.8, 2013.1, 2014.4, 2016.2]
KB_DIP_TY = [-0.08, -0.17, -0.19, -0.06, 0.33, 0.83, 1.33, 1.72, 1.97, 2.11, 2.22, 2.30, 2.44, 2.61, 2.70, 2.69, 2.63, 2.58, 2.61, 2.74, 2.94, 3.08, 3.14, 3.17, 3.14, 3.10, 3.06, 3.00, 2.89]
GU_DIP_TX = [1982.9, 1983.9, 1985.2, 1986.2, 1987.4, 1988.7, 1990.0, 1991.2, 1992.5, 1993.8, 1995.0, 1996.3, 1997.3, 1998.5, 1999.8, 2001.1, 2002.3, 2003.6, 2004.9, 2006.1, 2007.4, 2008.7, 2009.9, 2011.2, 2012.1, 2013.1, 2014.4, 2015.3, 2016.2]
GU_DIP_TY = [-0.30, -0.41, -0.50, -0.44, -0.17, 0.39, 0.94, 1.44, 1.86, 2.14, 2.30, 2.37, 2.33, 2.24, 2.13, 2.06, 2.03, 2.08, 2.17, 2.28, 2.44, 2.63, 2.81, 2.92, 2.94, 2.89, 2.72, 2.61, 2.41]
GU_DIP_RX = [1982.9, 1984.1, 1985.7, 1987.0, 1988.2, 1989.5, 1991.1, 1992.6, 1993.9, 1995.2, 1996.7, 1998.3, 2000.5, 2002.7, 2004.9, 2006.8, 2008.7, 2010.6, 2012.2, 2014.1, 2016.3]
GU_DIP_RY = [-0.34, -0.41, -0.45, -0.41, -0.11, 0.34, 1.02, 1.70, 2.05, 2.27, 2.32, 2.23, 2.09, 2.05, 2.16, 2.39, 2.73, 2.91, 2.95, 2.73, 2.32]

KB_NH4_TX = [1982.9, 1983.8, 1984.9, 1986.0, 1987.0, 1988.4, 1989.7, 1990.9, 1992.2, 1993.5, 1994.7, 1996.3, 1997.9, 1999.5, 2001.1, 2002.6, 2004.2, 2005.8, 2007.4, 2008.7, 2009.9, 2011.2, 2012.5, 2013.4, 2014.4, 2015.3, 2016.2]
KB_NH4_TY = [0.26, -0.49, -0.95, -1.13, -0.80, 0.07, 0.96, 1.56, 1.96, 2.06, 2.06, 2.02, 1.96, 1.90, 1.82, 1.76, 1.82, 2.14, 2.83, 3.62, 4.40, 5.00, 5.24, 5.20, 4.90, 4.60, 4.40]
GU_NH4_TX = [1982.9, 1983.9, 1985.0, 1986.2, 1987.3, 1988.4, 1989.7, 1990.9, 1992.2, 1993.5, 1994.7, 1996.3, 1997.9, 1999.5, 2001.1, 2002.6, 2004.2, 2005.5, 2006.8, 2008.0, 2009.3, 2010.6, 2011.5, 2012.5, 2013.4, 2014.4, 2015.3, 2016.2]
GU_NH4_TY = [-0.04, -0.55, -0.98, -1.13, -0.75, 0.00, 0.96, 1.62, 1.96, 2.00, 1.76, 1.56, 1.50, 1.50, 1.46, 1.30, 1.22, 1.46, 2.06, 3.04, 4.13, 5.00, 5.36, 5.44, 5.24, 4.90, 4.50, 4.10]

KB_SI_TX = [1982.9, 1984.6, 1986.2, 1987.8, 1989.0, 1990.3, 1991.6, 1993.1, 1994.7, 1996.3, 1997.6, 1998.5, 1999.5, 2001.1, 2002.3, 2003.0, 2003.9, 2005.2, 2006.4, 2007.4, 2008.3, 2009.3, 2010.2, 2011.2, 2012.1, 2012.9, 2013.7, 2014.7, 2015.6, 2016.2]
KB_SI_TY = [5.45, 5.37, 5.29, 5.20, 5.16, 5.18, 5.26, 5.42, 5.64, 5.86, 5.98, 6.00, 5.95, 5.74, 5.56, 5.54, 5.64, 5.88, 6.06, 6.11, 5.98, 5.64, 5.31, 5.07, 4.97, 4.98, 5.07, 5.21, 5.45, 5.66]
GU_SI_TX = [1982.9, 1983.9, 1984.9, 1985.9, 1986.8, 1987.8, 1988.7, 1989.7, 1990.6, 1991.6, 1992.8, 1994.1, 1995.4, 1996.6, 1997.9, 1998.8, 1999.8, 2001.1, 2002.3, 2003.3, 2004.2, 2005.5, 2006.8, 2007.7, 2008.7, 2009.6, 2010.6, 2011.5, 2012.5, 2013.4, 2014.4, 2015.3, 2016.2]
GU_SI_TY = [5.25, 5.37, 5.41, 5.39, 5.26, 5.05, 4.86, 4.71, 4.66, 4.70, 4.83, 4.99, 5.15, 5.30, 5.39, 5.41, 5.34, 5.15, 4.94, 4.81, 4.86, 5.18, 5.58, 5.72, 5.66, 5.42, 5.10, 4.81, 4.62, 4.54, 4.51, 4.56, 4.68]

KB_TSS_TX = [1987.1, 1988.1, 1989.0, 1990.0, 1991.2, 1992.3, 1993.5, 1994.7, 1996.0, 1996.9, 1997.9, 1999.2, 2000.4, 2001.4, 2002.3, 2003.3, 2004.2, 2005.5, 2006.8, 2007.9, 2008.7, 2009.9, 2011.2, 2012.5, 2013.7, 2014.7, 2016.2]
KB_TSS_TY = [2.78, 2.63, 2.54, 2.51, 2.54, 2.56, 2.52, 2.43, 2.38, 2.37, 2.41, 2.52, 2.59, 2.59, 2.57, 2.57, 2.60, 2.71, 2.83, 2.89, 2.88, 2.78, 2.63, 2.51, 2.47, 2.48, 2.54]
GU_TSS_TX = [1987.1, 1988.1, 1989.3, 1990.3, 1991.6, 1992.5, 1993.5, 1994.4, 1995.7, 1996.6, 1997.3, 1998.2, 1999.2, 2000.4, 2001.4, 2002.6, 2003.6, 2004.5, 2005.8, 2007.1, 2008.2, 2009.3, 2010.6, 2011.8, 2012.8, 2013.7, 2015.0, 2016.2]
GU_TSS_TY = [2.41, 2.29, 2.22, 2.24, 2.32, 2.34, 2.30, 2.18, 2.04, 1.97, 1.98, 2.10, 2.27, 2.38, 2.40, 2.35, 2.32, 2.40, 2.52, 2.63, 2.68, 2.66, 2.57, 2.44, 2.40, 2.39, 2.43, 2.51]

KB_DIN_TX = [1982.9, 1983.9, 1984.9, 1985.9, 1986.8, 1987.8, 1988.7, 1989.7, 1990.6, 1991.6, 1992.8, 1994.1, 1995.4, 1996.6, 1997.9, 1999.2, 2000.4, 2001.7, 2003.0, 2004.2, 2005.5, 2006.8, 2008.0, 2009.3, 2010.6, 2011.8, 2012.8, 2013.7, 2015.0, 2016.2]
KB_DIN_TY = [1.21, 0.81, 0.57, 0.52, 0.69, 1.12, 1.64, 2.24, 2.84, 3.33, 3.71, 3.88, 3.93, 3.84, 3.62, 3.40, 3.24, 3.22, 3.36, 3.57, 3.74, 3.88, 4.02, 4.36, 4.83, 5.26, 5.40, 5.29, 4.91, 4.40]
GU_DIN_TX = [1982.9, 1983.9, 1984.9, 1985.9, 1986.8, 1987.8, 1988.7, 1989.7, 1990.6, 1991.6, 1992.8, 1993.8, 1995.0, 1996.3, 1997.9, 1999.5, 2001.1, 2002.6, 2004.2, 2005.8, 2007.1, 2008.3, 2009.6, 2010.9, 2012.1, 2013.1, 2014.4, 2015.3, 2016.2]
GU_DIN_TY = [0.81, 0.52, 0.43, 0.47, 0.64, 1.07, 1.60, 2.24, 2.84, 3.33, 3.71, 3.74, 3.57, 3.33, 3.07, 2.98, 2.98, 3.02, 3.05, 3.10, 3.40, 4.05, 4.66, 5.26, 5.57, 5.43, 5.00, 4.66, 4.19]

# ---------------- assemble panel tables ----------------
KB_OBS = [
    (KB_CHL_X, KB_CHL_LO, KB_CHL_HI, KB_CHL_OX, KB_CHL_OY),
    (KB_DO_X, KB_DO_LO, KB_DO_HI, KB_DO_OX, KB_DO_OY),
    (KB_S_X, KB_S_LO, KB_S_HI, KB_S_OX, KB_S_OY),
    (KB_T_X, KB_T_LO, KB_T_HI, KB_T_OX, KB_T_OY),
    (KB_TOXN_X, KB_TOXN_LO, KB_TOXN_HI, KB_TOXN_OX, KB_TOXN_OY),
    (KB_DIP_X, KB_DIP_LO, KB_DIP_HI, KB_DIP_OX, KB_DIP_OY),
    (KB_NH4_X, KB_NH4_LO, KB_NH4_HI, KB_NH4_OX, KB_NH4_OY),
    (KB_SI_X, KB_SI_LO, KB_SI_HI, KB_SI_OX, KB_SI_OY),
    (KB_TSS_X, KB_TSS_LO, KB_TSS_HI, KB_TSS_OX, KB_TSS_OY),
    (KB_DIN_X, KB_DIN_LO, KB_DIN_HI, KB_DIN_OX, KB_DIN_OY),
]
GU_OBS = [
    (GU_CHL_X, GU_CHL_LO, GU_CHL_HI, GU_CHL_OX, GU_CHL_OY),
    (GU_DO_X, GU_DO_LO, GU_DO_HI, GU_DO_OX, GU_DO_OY),
    (GU_S_X, GU_S_LO, GU_S_HI, GU_S_OX, GU_S_OY),
    (GU_T_X, GU_T_LO, GU_T_HI, GU_T_OX, GU_T_OY),
    (GU_TOXN_X, GU_TOXN_LO, GU_TOXN_HI, GU_TOXN_OX, GU_TOXN_OY),
    (GU_DIP_X, GU_DIP_LO, GU_DIP_HI, GU_DIP_OX, GU_DIP_OY),
    (GU_NH4_X, GU_NH4_LO, GU_NH4_HI, GU_NH4_OX, GU_NH4_OY),
    (GU_SI_X, GU_SI_LO, GU_SI_HI, GU_SI_OX, GU_SI_OY),
    (GU_TSS_X, GU_TSS_LO, GU_TSS_HI, GU_TSS_OX, GU_TSS_OY),
    (GU_DIN_X, GU_DIN_LO, GU_DIN_HI, GU_DIN_OX, GU_DIN_OY),
]
KB_TREND = [(KB_CHL_TX, KB_CHL_TY), (KB_DO_TX, KB_DO_TY), (KB_S_TX, KB_S_TY), (KB_T_TX, KB_T_TY),
            (KB_TOXN_TX, KB_TOXN_TY), (KB_DIP_TX, KB_DIP_TY), (KB_NH4_TX, KB_NH4_TY), (KB_SI_TX, KB_SI_TY),
            (KB_TSS_TX, KB_TSS_TY), (KB_DIN_TX, KB_DIN_TY)]
GU_TREND = [(GU_CHL_TX, GU_CHL_TY), (GU_DO_TX, GU_DO_TY), (GU_S_TX, GU_S_TY), (GU_T_TX, GU_T_TY),
            (GU_TOXN_TX, GU_TOXN_TY), (GU_DIP_TX, GU_DIP_TY), (GU_NH4_TX, GU_NH4_TY), (GU_SI_TX, GU_SI_TY),
            (GU_TSS_TX, GU_TSS_TY), (GU_DIN_TX, GU_DIN_TY)]
GU_RED = list(GU_TREND)
GU_RED[4] = (GU_TOXN_RX, GU_TOXN_RY)
GU_RED[5] = (GU_DIP_RX, GU_DIP_RY)

# ---------------- layout (pixels) ----------------
W, H = 1577, 2106
ROW_TOP = [71, 278, 484, 690, 895, 1094, 1300, 1505, 1711, 1917]
ROW_H = 141
COL_X = {
    'A': [(88, 472)] * 5 + [(94, 478)] * 5,
    'B': [(614, 1001)] * 5 + [(621, 1007)] * 5,
    'C': [(1177, 1562)] * 10,
}
YLAB_X = {'A': [16] * 5 + [20] * 5, 'B': [540] * 5 + [547] * 5, 'C': [1103] * 10}

RED = '#f01818'
RED2 = '#e2233b'
INK = '#0b0b0b'
TICKFONT = 'Liberation Sans'

plt.rcParams['font.family'] = ['Liberation Sans', 'DejaVu Sans']
fig = plt.figure(figsize=(W / 100, H / 100), dpi=100)
fig.patch.set_facecolor('white')


def px_axes(l, t, r, b):
    return fig.add_axes([l / W, 1 - b / H, (r - l) / W, (b - t) / H])


def segments(xs, lo, hi):
    segs, cur = [], ([], [], [])
    for x, l, h in zip(xs, lo, hi):
        if x is None:
            if cur[0]:
                segs.append(cur)
            cur = ([], [], [])
        else:
            cur[0].append(x); cur[1].append(l); cur[2].append(h)
    if cur[0]:
        segs.append(cur)
    return segs


def style(ax, ylim, ticks, labels, bottom):
    ax.set_xlim(1981.6, 2017.6)
    ax.set_ylim(*ylim)
    ax.set_yticks(ticks)
    ax.set_yticklabels(labels, rotation=90, va='center', fontsize=12, family=TICKFONT, color='#1a1a1a')
    ax.tick_params(axis='y', direction='out', length=8, width=1.3, pad=6.5)
    if bottom:
        ax.set_xticks(XT)
        ax.set_xticklabels(XTL, fontsize=12.5, family=TICKFONT, color='#1a1a1a')
        ax.tick_params(axis='x', direction='out', length=8, width=1.6, pad=7)
    else:
        ax.set_xticks([])
    for s in ax.spines.values():
        s.set_linewidth(1.6)
        s.set_color('#111111')


def draw_obs(ax, obs, stripes):
    xs, lo, hi, ox, oy = obs
    for sx, sl, sh in segments(xs, lo, hi):
        if stripes:
            ax.vlines(sx, sl, sh, colors=INK, linewidth=5.0, capstyle='round', zorder=2)
        else:
            ax.fill_between(sx, sl, sh, color=INK, linewidth=2.0, edgecolor=INK, zorder=2)
            ax.scatter(sx, sl, s=26, color=INK, linewidths=0, zorder=2)
            ax.scatter(sx, sh, s=26, color=INK, linewidths=0, zorder=2)
    if ox:
        ax.scatter(ox, oy, s=26, color=INK, linewidths=0, zorder=2)


for r in range(10):
    bottom = (r == 9)
    stripes = (r == 3)
    t = ROW_TOP[r]
    # Column A: Kuwait bay
    l, rr = COL_X['A'][r]
    ax = px_axes(l, t, rr, t + ROW_H)
    draw_obs(ax, KB_OBS[r], stripes)
    ax.plot(*KB_TREND[r], color=RED, lw=3.3, solid_capstyle='round', solid_joinstyle='round', zorder=4)
    style(ax, A_YLIM[r], A_TICKS[r], A_LABELS[r], bottom)
    fig.text(YLAB_X['A'][r] / W, 1 - (t + ROW_H / 2) / H, AB_NAMES[r], rotation=90,
             ha='center', va='center', fontsize=13, color='#1a1a1a')
    # Column B: Arabian Gulf
    l, rr = COL_X['B'][r]
    ax = px_axes(l, t, rr, t + ROW_H)
    draw_obs(ax, GU_OBS[r], stripes)
    ax.plot(*GU_RED[r], color=RED, lw=3.3, solid_capstyle='round', solid_joinstyle='round', zorder=4)
    style(ax, B_YLIM[r], B_TICKS[r], B_LABELS[r], bottom)
    fig.text(YLAB_X['B'][r] / W, 1 - (t + ROW_H / 2) / H, AB_NAMES[r], rotation=90,
             ha='center', va='center', fontsize=13, color='#1a1a1a')
    # Column C: comparison
    l, rr = COL_X['C'][r]
    ax = px_axes(l, t, rr, t + ROW_H)
    ax.plot(*KB_TREND[r], color='#111111', lw=1.7, label='KB', zorder=3)
    ax.plot(*GU_TREND[r], color=RED2, lw=2.1, ls=(0, (4.5, 2.6)), label='Gulf', zorder=4)
    style(ax, C_YLIM[r], C_TICKS[r], C_LABELS[r], bottom)
    fig.text(YLAB_X['C'][r] / W, 1 - (t + ROW_H / 2) / H, C_NAMES[r], rotation=90,
             ha='center', va='center', fontsize=13, color='#1a1a1a')
    if r == 1:
        leg = ax.legend(loc='upper left', fontsize=9, frameon=True, fancybox=False, borderaxespad=0,
                        handlelength=2.3, handletextpad=1.0, borderpad=0.8, labelspacing=0.35)
        leg.get_frame().set_edgecolor('#111111')
        leg.get_frame().set_linewidth(1.3)
        leg.get_frame().set_alpha(1)

# titles and panel letters
TITLE_X = [316, 843, 1400]
LETTER_X = [18, 538, 1098]
for i in range(3):
    fig.text(TITLE_X[i] / W, 1 - 41 / H, TITLES[i], ha='center', va='baseline',
             fontsize=31, family=['Open Sans', 'DejaVu Sans'], color='#1a1a1a')
    fig.text(LETTER_X[i] / W, 1 - 20 / H, LETTERS[i], ha='center', va='center',
             fontsize=21, weight='bold', family=['Liberation Sans', 'DejaVu Sans'], color='#111111')

fig.savefig('out.png', dpi=100, facecolor='white')
